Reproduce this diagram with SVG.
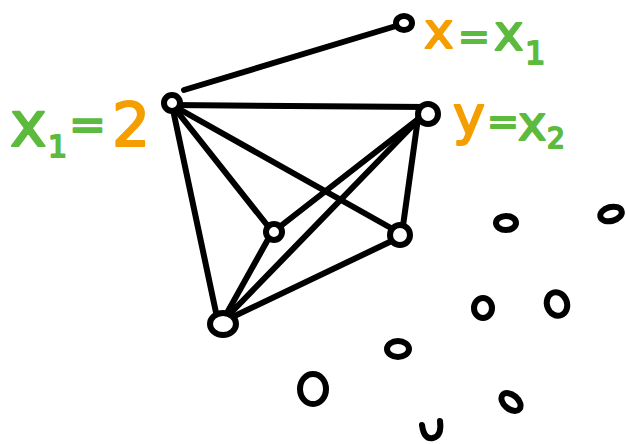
<svg xmlns="http://www.w3.org/2000/svg" width="626" height="444" viewBox="0 0 626 444">
<style>
.e{stroke:#000;stroke-width:6;stroke-linecap:round;fill:none}
.n{stroke:#000;stroke-width:6;fill:#fff}
.t{font-family:"DejaVu Sans",sans-serif;stroke-width:2;stroke-linejoin:round}
.g{fill:#5cba3e;stroke:#5cba3e}
.o{fill:#f59e00;stroke:#f59e00}
</style>
<rect width="626" height="444" fill="#fff"/>
<g id="connectors">
<line class="e" x1="184" y1="90" x2="396" y2="26"/>
<line class="e" x1="172" y1="105" x2="428" y2="107"/>
<line class="e" x1="172" y1="105" x2="271" y2="230"/>
<line class="e" x1="172" y1="105" x2="398" y2="232"/>
<line class="e" x1="172" y1="105" x2="218" y2="322"/>
<line class="e" x1="422" y1="116" x2="273" y2="232"/>
<line class="e" x1="422" y1="116" x2="222" y2="322"/>
<line class="e" x1="418" y1="118" x2="402" y2="233"/>
<line class="e" x1="271" y1="234" x2="222" y2="322"/>
<line class="e" x1="398" y1="238" x2="222" y2="322"/>
</g>
<g id="nA"><circle class="n" cx="172" cy="103" r="8"/></g>
<g id="nB"><ellipse class="n" cx="404" cy="23" rx="8" ry="7"/></g>
<g id="nC"><circle class="n" cx="428" cy="114" r="10"/></g>
<g id="nD"><circle class="n" cx="274" cy="232" r="8"/></g>
<g id="nE"><circle class="n" cx="400" cy="235" r="10"/></g>
<g id="nF"><ellipse class="n" cx="223" cy="324" rx="13" ry="11"/></g>
<g id="n1"><ellipse class="n" cx="506" cy="223" rx="10" ry="7"/></g>
<g id="n2"><ellipse class="n" cx="611" cy="214" rx="11" ry="7" transform="rotate(-15 611 214)"/></g>
<g id="n3"><ellipse class="n" cx="483" cy="308" rx="9" ry="10"/></g>
<g id="n4"><ellipse class="n" cx="557" cy="304" rx="10" ry="12" transform="rotate(-20 557 304)"/></g>
<g id="n5"><ellipse class="n" cx="398" cy="349" rx="11" ry="8"/></g>
<g id="n6"><ellipse class="n" cx="313" cy="389" rx="13" ry="15"/></g>
<g id="n7"><ellipse class="n" cx="511" cy="402" rx="11" ry="7" transform="rotate(40 511 402)"/></g>
<g id="n8"><path class="e" d="M422 425 Q424 440 433 438 Q442 436 440 421"/></g>
<g id="labels">
<text class="t g" x="10" y="146" font-size="62">x</text>
<text class="t g" x="48" y="157" font-size="30">1</text>
<text class="t g" x="69" y="140" font-size="44">=</text>
<text class="t o" x="112" y="146" font-size="60">2</text>
<text class="t o" x="424" y="48" font-size="50">x</text>
<text class="t g" x="458" y="49" font-size="38">=</text>
<text class="t g" x="494" y="50" font-size="50">x</text>
<text class="t g" x="525" y="64" font-size="32">1</text>
<text class="t o" x="453" y="134" font-size="54">y</text>
<text class="t g" x="487" y="134" font-size="38">=</text>
<text class="t g" x="518" y="140" font-size="48">x</text>
<text class="t g" x="547" y="148" font-size="28">2</text>
</g>
</svg>
